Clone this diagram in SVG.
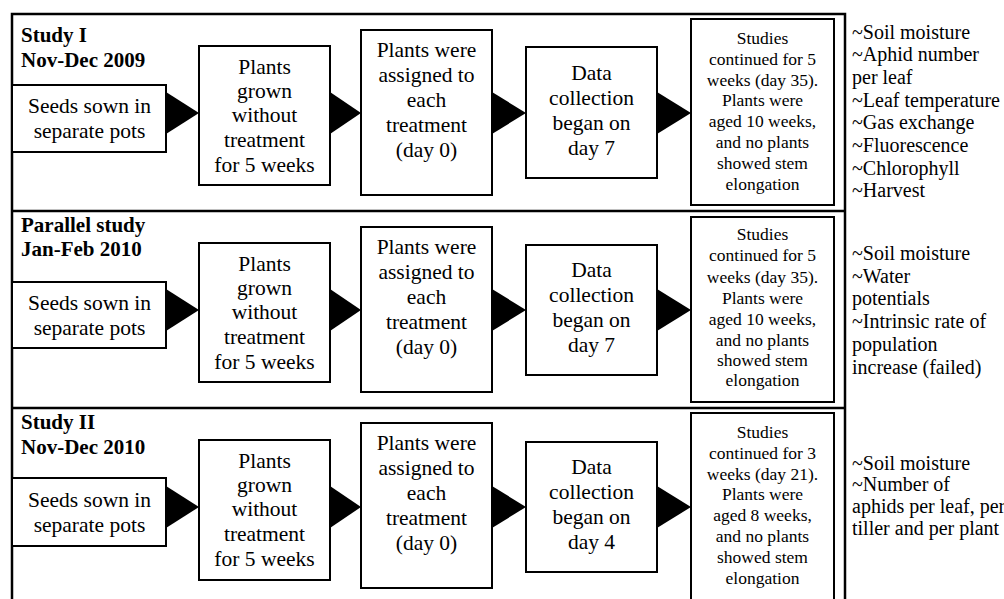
<svg xmlns="http://www.w3.org/2000/svg" width="1004" height="599" viewBox="0 0 1004 599">
<style>
.bg{fill:#ffffff}
.panel{fill:none;stroke:#000;stroke-width:2.5}
.box{fill:#fff;stroke:#000;stroke-width:2}
.t{font-family:"Liberation Serif","Times New Roman",serif;font-size:21.5px;fill:#000;text-anchor:middle}
.s{font-family:"Liberation Serif","Times New Roman",serif;font-size:17.5px;fill:#000;text-anchor:middle}
.lab{font-family:"Liberation Serif","Times New Roman",serif;font-size:21px;font-weight:bold;fill:#000}
.note{font-family:"Liberation Serif","Times New Roman",serif;font-size:20px;fill:#000}
.arrow{fill:#000;stroke:none}
</style>
<rect class="bg" x="0" y="0" width="1004" height="599"/>

<g id="panels">
  <rect class="panel" x="12" y="14" width="833" height="620"/>
  <line class="panel" x1="12" y1="211" x2="845" y2="211"/>
  <line class="panel" x1="12" y1="408" x2="845" y2="408"/>
</g>

<g id="connectors">
  <polygon class="arrow" points="166,92 166,134 199,113"/>
  <polygon class="arrow" points="330,92 330,134 361,113"/>
  <polygon class="arrow" points="492,92 492,134 526,113"/>
  <polygon class="arrow" points="657,92 657,134 691,113"/>
  <polygon class="arrow" points="166,289 166,331 199,310"/>
  <polygon class="arrow" points="330,289 330,331 361,310"/>
  <polygon class="arrow" points="492,289 492,331 526,310"/>
  <polygon class="arrow" points="657,289 657,331 691,310"/>
  <polygon class="arrow" points="166,486 166,528 199,507"/>
  <polygon class="arrow" points="330,486 330,528 361,507"/>
  <polygon class="arrow" points="492,486 492,528 526,507"/>
  <polygon class="arrow" points="657,486 657,528 691,507"/>
</g>

<!-- Panel 1 -->
<g id="p1-label">
  <text class="lab" x="21" y="42">Study I</text>
  <text class="lab" x="21" y="67">Nov-Dec 2009</text>
</g>
<g id="p1-seeds">
  <rect class="box" x="12" y="85" width="154" height="67"/>
  <text class="t" x="89.5" y="113">Seeds sown in</text>
  <text class="t" x="89.5" y="138">separate pots</text>
</g>
<g id="p1-grown">
  <rect class="box" x="199" y="46" width="131" height="139"/>
  <text class="t" x="264.5" y="74">Plants</text>
  <text class="t" x="264.5" y="98">grown</text>
  <text class="t" x="264.5" y="122">without</text>
  <text class="t" x="264.5" y="147">treatment</text>
  <text class="t" x="264.5" y="172">for 5 weeks</text>
</g>
<g id="p1-assigned">
  <rect class="box" x="361" y="30" width="131" height="165"/>
  <text class="t" x="426.5" y="57">Plants were</text>
  <text class="t" x="426.5" y="82">assigned to</text>
  <text class="t" x="426.5" y="107">each</text>
  <text class="t" x="426.5" y="132">treatment</text>
  <text class="t" x="426.5" y="157">(day 0)</text>
</g>
<g id="p1-data">
  <rect class="box" x="526" y="47" width="131" height="131"/>
  <text class="t" x="591.5" y="80">Data</text>
  <text class="t" x="591.5" y="105">collection</text>
  <text class="t" x="591.5" y="130">began on</text>
  <text class="t" x="591.5" y="155">day 7</text>
</g>
<g id="p1-studies">
  <rect class="box" x="691" y="19" width="143" height="186"/>
  <text class="s" x="762.5" y="44">Studies</text>
  <text class="s" x="762.5" y="64.8">continued for 5</text>
  <text class="s" x="762.5" y="85.6">weeks (day 35).</text>
  <text class="s" x="762.5" y="106.4">Plants were</text>
  <text class="s" x="762.5" y="127.2">aged 10 weeks,</text>
  <text class="s" x="762.5" y="148">and no plants</text>
  <text class="s" x="762.5" y="168.8">showed stem</text>
  <text class="s" x="762.5" y="189.6">elongation</text>
</g>
<g id="p1-notes">
  <text class="note" x="852" y="38.5">~Soil moisture</text>
  <text class="note" x="852" y="61.2">~Aphid number</text>
  <text class="note" x="852" y="83.9">per leaf</text>
  <text class="note" x="852" y="106.6">~Leaf temperature</text>
  <text class="note" x="852" y="129.3">~Gas exchange</text>
  <text class="note" x="852" y="152">~Fluorescence</text>
  <text class="note" x="852" y="174.7">~Chlorophyll</text>
  <text class="note" x="852" y="197.4">~Harvest</text>
</g>

<!-- Panel 2 -->
<g id="p2-label">
  <text class="lab" x="21" y="232">Parallel study</text>
  <text class="lab" x="21" y="256">Jan-Feb 2010</text>
</g>
<g id="p2-seeds">
  <rect class="box" x="12" y="282" width="154" height="66"/>
  <text class="t" x="89.5" y="310">Seeds sown in</text>
  <text class="t" x="89.5" y="335">separate pots</text>
</g>
<g id="p2-grown">
  <rect class="box" x="199" y="243" width="131" height="139"/>
  <text class="t" x="264.5" y="271">Plants</text>
  <text class="t" x="264.5" y="295">grown</text>
  <text class="t" x="264.5" y="319">without</text>
  <text class="t" x="264.5" y="344">treatment</text>
  <text class="t" x="264.5" y="369">for 5 weeks</text>
</g>
<g id="p2-assigned">
  <rect class="box" x="361" y="227" width="131" height="165"/>
  <text class="t" x="426.5" y="254">Plants were</text>
  <text class="t" x="426.5" y="279">assigned to</text>
  <text class="t" x="426.5" y="304">each</text>
  <text class="t" x="426.5" y="329">treatment</text>
  <text class="t" x="426.5" y="354">(day 0)</text>
</g>
<g id="p2-data">
  <rect class="box" x="526" y="245" width="131" height="130"/>
  <text class="t" x="591.5" y="277">Data</text>
  <text class="t" x="591.5" y="302">collection</text>
  <text class="t" x="591.5" y="327">began on</text>
  <text class="t" x="591.5" y="352">day 7</text>
</g>
<g id="p2-studies">
  <rect class="box" x="691" y="217" width="143" height="185"/>
  <text class="s" x="762.5" y="240">Studies</text>
  <text class="s" x="762.5" y="261.3">continued for 5</text>
  <text class="s" x="762.5" y="282.6">weeks (day 35).</text>
  <text class="s" x="762.5" y="303.9">Plants were</text>
  <text class="s" x="762.5" y="325.2">aged 10 weeks,</text>
  <text class="s" x="762.5" y="345.5">and no plants</text>
  <text class="s" x="762.5" y="365.8">showed stem</text>
  <text class="s" x="762.5" y="386.4">elongation</text>
</g>
<g id="p2-notes">
  <text class="note" x="852" y="260">~Soil moisture</text>
  <text class="note" x="852" y="282.7">~Water</text>
  <text class="note" x="852" y="305.4">potentials</text>
  <text class="note" x="852" y="328.1">~Intrinsic rate of</text>
  <text class="note" x="852" y="350.8">population</text>
  <text class="note" x="852" y="373.5">increase (failed)</text>
</g>

<!-- Panel 3 -->
<g id="p3-label">
  <text class="lab" x="21" y="429">Study II</text>
  <text class="lab" x="21" y="454">Nov-Dec 2010</text>
</g>
<g id="p3-seeds">
  <rect class="box" x="12" y="478" width="154" height="68"/>
  <text class="t" x="89.5" y="507">Seeds sown in</text>
  <text class="t" x="89.5" y="532">separate pots</text>
</g>
<g id="p3-grown">
  <rect class="box" x="199" y="440" width="131" height="140"/>
  <text class="t" x="264.5" y="468">Plants</text>
  <text class="t" x="264.5" y="492">grown</text>
  <text class="t" x="264.5" y="516">without</text>
  <text class="t" x="264.5" y="541">treatment</text>
  <text class="t" x="264.5" y="566">for 5 weeks</text>
</g>
<g id="p3-assigned">
  <rect class="box" x="361" y="423" width="131" height="165"/>
  <text class="t" x="426.5" y="450">Plants were</text>
  <text class="t" x="426.5" y="475">assigned to</text>
  <text class="t" x="426.5" y="500">each</text>
  <text class="t" x="426.5" y="525">treatment</text>
  <text class="t" x="426.5" y="550">(day 0)</text>
</g>
<g id="p3-data">
  <rect class="box" x="526" y="442" width="131" height="130"/>
  <text class="t" x="591.5" y="474">Data</text>
  <text class="t" x="591.5" y="499">collection</text>
  <text class="t" x="591.5" y="524">began on</text>
  <text class="t" x="591.5" y="549">day 4</text>
</g>
<g id="p3-studies">
  <rect class="box" x="691" y="413" width="143" height="200"/>
  <text class="s" x="762.5" y="438">Studies</text>
  <text class="s" x="762.5" y="458.8">continued for 3</text>
  <text class="s" x="762.5" y="479.6">weeks (day 21).</text>
  <text class="s" x="762.5" y="500.4">Plants were</text>
  <text class="s" x="762.5" y="521.2">aged 8 weeks,</text>
  <text class="s" x="762.5" y="542">and no plants</text>
  <text class="s" x="762.5" y="562.8">showed stem</text>
  <text class="s" x="762.5" y="583.6">elongation</text>
</g>
<g id="p3-notes">
  <text class="note" x="852" y="469.6">~Soil moisture</text>
  <text class="note" x="852" y="491.3">~Number of</text>
  <text class="note" x="852" y="513">aphids per leaf, per</text>
  <text class="note" x="852" y="534.7">tiller and per plant</text>
</g>
</svg>
